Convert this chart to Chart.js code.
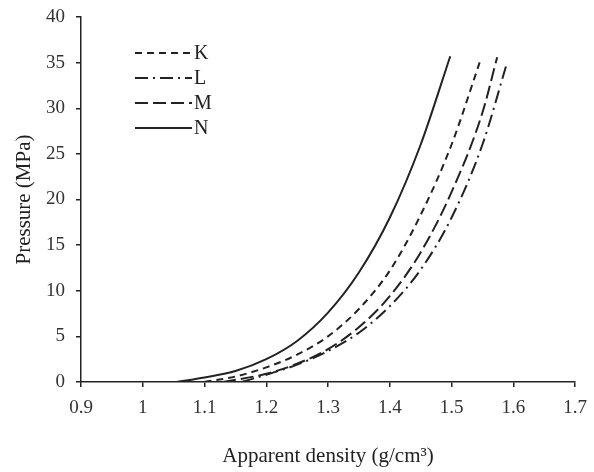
<!DOCTYPE html>
<html>
<head>
<meta charset="utf-8">
<script src="https://cdn.jsdelivr.net/npm/chart.js@4/dist/chart.umd.min.js"></script>
<style>
  html, body { margin: 0; padding: 0; background: #fff; }
  #wrap { width: 594px; height: 472px; }
</style>
</head>
<body>
<div id="wrap"><canvas id="c"></canvas></div>
<script>
// Werte (Dichte g/cm3 -> Druck MPa)
var seriesNames = ['K', 'L', 'M', 'N'];
var kDensity  = [1.10, 1.15, 1.20, 1.25, 1.30, 1.35, 1.40, 1.45, 1.50, 1.546];
var kPressure = [0.0, 0.6, 1.6, 3.0, 5.0, 8.0, 12.2, 18.3, 26.0, 35.1];
var lDensity  = [1.16, 1.20, 1.25, 1.30, 1.35, 1.40, 1.45, 1.50, 1.55, 1.59];
var lPressure = [0.0, 0.8, 1.9, 3.4, 5.4, 8.3, 12.3, 18.0, 26.0, 35.0];
var mDensity  = [1.13, 1.20, 1.25, 1.30, 1.35, 1.40, 1.45, 1.50, 1.55, 1.574];
var mPressure = [0.0, 0.9, 2.0, 3.6, 6.0, 9.4, 14.2, 20.8, 29.5, 35.6];
var nDensity  = [1.055, 1.10, 1.15, 1.20, 1.25, 1.30, 1.35, 1.40, 1.45, 1.498];
var nPressure = [0.0, 0.5, 1.2, 2.5, 4.5, 7.6, 12.0, 18.0, 26.0, 35.7];
var xTicks = [0.9, 1.0, 1.1, 1.2, 1.3, 1.4, 1.5, 1.6, 1.7];
var yTicks = [0, 5, 10, 15, 20, 25, 30, 35, 40];

var FONT = '"Liberation Serif", "Times New Roman", serif';
var INK = '#222';

function pts(xs, ys) { return xs.map(function (x, i) { return { x: x, y: ys[i] }; }); }

function line(label, data, dash) {
  return { label: label, data: data, borderColor: INK, borderWidth: 2, borderDash: dash,
    pointRadius: 0, fill: false, cubicInterpolationMode: 'monotone' };
}

// Legende links oben: Linienmuster + Buchstabe
var legendPlugin = {
  id: 'refLegend',
  afterDraw: function (chart) {
    var ctx = chart.ctx;
    ctx.save();
    ctx.font = '20px ' + FONT;
    ctx.fillStyle = INK;
    ctx.textBaseline = 'middle';
    chart.data.datasets.forEach(function (ds, i) {
      var y = 53 + i * 25;
      ctx.strokeStyle = INK; ctx.lineWidth = 2;
      ctx.setLineDash(ds.borderDash || []);
      ctx.beginPath(); ctx.moveTo(135, y); ctx.lineTo(192, y); ctx.stroke();
      ctx.setLineDash([]);
      ctx.fillText(ds.label, 194, y + 1);
    });
    ctx.restore();
  }
};

new Chart(document.getElementById('c').getContext('2d'), {
  type: 'line',
  data: {
    datasets: [
      line(seriesNames[0], pts(kDensity, kPressure), [7, 5]),
      line(seriesNames[1], pts(lDensity, lPressure), [13, 5, 2, 5]),
      line(seriesNames[2], pts(mDensity, mPressure), [13, 5]),
      line(seriesNames[3], pts(nDensity, nPressure), [])
    ]
  },
  options: {
    responsive: true, maintainAspectRatio: false, animation: false,
    layout: { padding: { top: 17, right: 19, left: 0, bottom: 0 } },
    plugins: { legend: { display: false }, tooltip: { enabled: false } },
    scales: {
      x: {
        type: 'linear', min: 0.9, max: 1.7,
        afterBuildTicks: function (s) { s.ticks = xTicks.map(function (v) { return { value: v }; }); },
        afterFit: function (s) { s.height = 90; s.paddingLeft = 0; s.paddingRight = 0; },
        grid: { drawOnChartArea: false, drawTicks: true, tickLength: 5, color: INK, lineWidth: 1.5 },
        border: { display: true, color: INK, width: 1.5 },
        ticks: { color: '#333', font: { family: FONT, size: 19 }, padding: 10,
          callback: function (v) { return String(Math.round(v * 10) / 10); } },
        title: { display: true, text: 'Apparent density (g/cm³)', color: INK,
          font: { family: FONT, size: 21 }, padding: { top: 24, bottom: 3 } }
      },
      y: {
        type: 'linear', min: 0, max: 40,
        afterBuildTicks: function (s) { s.ticks = yTicks.map(function (v) { return { value: v }; }); },
        afterFit: function (s) { s.width = 81; s.paddingTop = 0; s.paddingBottom = 0; },
        grid: { drawOnChartArea: false, drawTicks: true, tickLength: 5, color: INK, lineWidth: 1.5 },
        border: { display: true, color: INK, width: 1.5 },
        ticks: { color: '#333', font: { family: FONT, size: 19 }, padding: 11 },
        title: { display: true, text: 'Pressure (MPa)', color: INK,
          font: { family: FONT, size: 21 }, padding: { top: 12, bottom: 12 } }
      }
    }
  },
  plugins: [legendPlugin]
});
</script>
</body>
</html>
